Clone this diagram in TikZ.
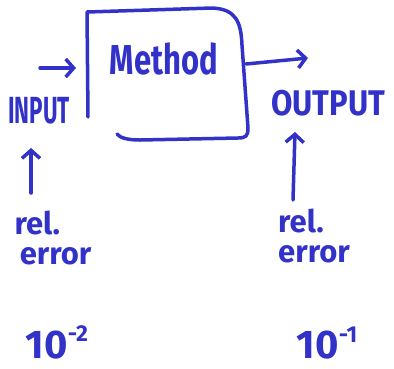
\documentclass[tikz,border=0pt]{standalone}
\usepackage{fontspec}
\setmainfont{Fira Sans}
\usetikzlibrary{arrows.meta}
\definecolor{ink}{RGB}{50,50,200}
\newcommand{\supr}[1]{\raisebox{0.42em}{\fontsize{23}{23}\selectfont #1}}
\begin{document}
\begin{tikzpicture}[x=1pt,y=-1pt,
  ink line/.style={draw=ink, line width=3.5pt, line cap=round, line join=round},
  arr/.style={ink line, -{Straight Barb[length=8pt,width=18pt,line width=3.5pt]}},
  lbl/.style={text=ink, inner sep=0pt, font=\bfseries\fontsize{28}{30}\selectfont},
  small/.style={text=ink, inner sep=0pt, align=left, font=\bfseries\fontsize{31}{33}\selectfont}]
\useasboundingbox (0,0) rectangle (394,368);
% box
\draw[ink line] (88,117) -- (87,12) -- (212,8)
  .. controls (236,9) and (241,22) .. (242,45) -- (248,128)
  .. controls (248,136) and (246,138) .. (238,138) -- (140,140)
  .. controls (128,140) and (120,138) .. (117,134);
\node[lbl, font=\bfseries\fontsize{31}{33}\selectfont, yscale=1.35] (method) at (164,59) {Method};
\node[lbl, xscale=0.8, yscale=1.35] (input) at (39,111) {INPUT};
\node[lbl, font=\bfseries\fontsize{31}{33}\selectfont, yscale=1.15] (output) at (328,103) {OUTPUT};
\node[small] (relL) at (53,238) {rel.\\[-3pt]\,error};
\node[small] (relR) at (314,236) {rel.\\[-3pt]error};
\node[lbl, font=\bfseries\fontsize{40}{42}\selectfont] (tenL) at (57,342) {10\supr{-2}};
\node[lbl, font=\bfseries\fontsize{40}{42}\selectfont] (tenR) at (327,343) {10\supr{-1}};
% arrows
\coordinate (inS) at (40,68);
\coordinate (inE) at (76,68);
\draw[arr] (inS) -- (inE);
\coordinate (outS) at (246,64);
\coordinate (outE) at (308,58);
\draw[arr] (outS) -- (outE);
\coordinate (upLS) at (31,193);
\coordinate (upLE) at (31,148);
\draw[arr] (upLS) -- (upLE);
\coordinate (upRS) at (293,200);
\coordinate (upRE) at (295,132);
\draw[arr] (upRS) -- (upRE);
\end{tikzpicture}
\end{document}
